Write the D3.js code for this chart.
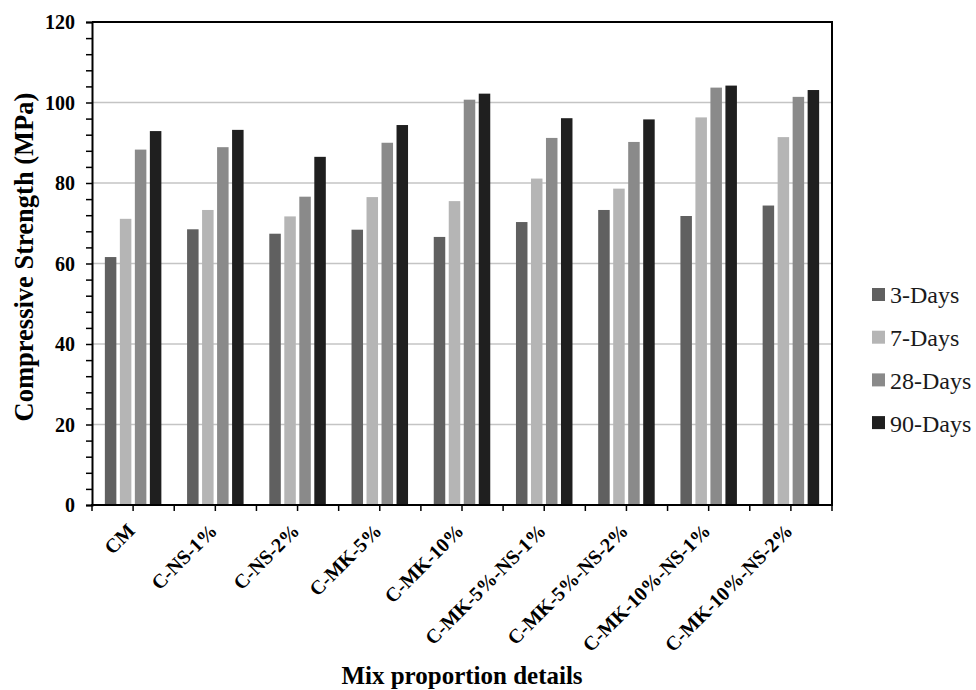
<!DOCTYPE html>
<html>
<head>
<meta charset="utf-8">
<script src="https://cdn.jsdelivr.net/npm/d3@7"></script>
<style>
  html, body { margin: 0; padding: 0; background: #fff; }
  svg { display: block; font-family: "Liberation Serif", "Times New Roman", serif; }
</style>
</head>
<body>
<svg id="chart" width="976" height="690"></svg>
<script>
// Compressive strength of each mix at four curing ages (MPa)
const mixes = ["CM", "C-NS-1%", "C-NS-2%", "C-MK-5%", "C-MK-10%",
  "C-MK-5%-NS-1%", "C-MK-5%-NS-2%", "C-MK-10%-NS-1%", "C-MK-10%-NS-2%"];
const ages = ["3-Days", "7-Days", "28-Days", "90-Days"];
const days3  = [61.6, 68.5, 67.4, 68.4, 66.6, 70.3, 73.3, 71.8, 74.4];
const days7  = [71.1, 73.3, 71.7, 76.5, 75.5, 81.1, 78.6, 96.3, 91.4];
const days28 = [88.3, 88.9, 76.6, 90.0, 100.7, 91.2, 90.2, 103.7, 101.4];
const days90 = [92.9, 93.2, 86.5, 94.4, 102.2, 96.1, 95.8, 104.2, 103.1];
const yTicks = [0, 20, 40, 60, 80, 100, 120];
const colors = ["#606060", "#b5b5b5", "#8a8a8a", "#1f1f1f"];

const seriesValues = [days3, days7, days28, days90];
const rows = mixes.map((m, i) => ({
  mix: m,
  values: ages.map((a, k) => ({ age: a, value: seriesValues[k][i] }))
}));

const svg = d3.select("#chart");
const plot = { left: 92, right: 832, top: 22, bottom: 505 };

const x0 = d3.scaleBand()
  .domain(mixes)
  .range([plot.left, plot.right])
  .paddingInner(0.3127)
  .paddingOuter(0.15635);
const x1 = d3.scaleBand()
  .domain(ages)
  .range([0, x0.bandwidth()])
  .paddingInner(0.233);
const y = d3.scaleLinear().domain([0, 120]).range([plot.bottom, plot.top]);
const color = d3.scaleOrdinal().domain(ages).range(colors);

// horizontal gridlines
svg.append("g")
  .selectAll("line")
  .data(yTicks.filter(t => t > 0 && t < 120))
  .join("line")
  .attr("x1", plot.left).attr("x2", plot.right)
  .attr("y1", d => y(d)).attr("y2", d => y(d))
  .attr("stroke", "#c4c4c4").attr("stroke-width", 1.6);

// bars
svg.append("g")
  .selectAll("g")
  .data(rows)
  .join("g")
  .attr("transform", d => `translate(${x0(d.mix)},0)`)
  .selectAll("rect")
  .data(d => d.values)
  .join("rect")
  .attr("x", d => x1(d.age))
  .attr("width", x1.bandwidth())
  .attr("y", d => y(d.value))
  .attr("height", d => y(0) - y(d.value))
  .attr("fill", d => color(d.age));

// frame: top and right borders
svg.append("path")
  .attr("d", `M${plot.left},${plot.top}H${plot.right}V${plot.bottom}`)
  .attr("fill", "none").attr("stroke", "#000").attr("stroke-width", 2);

// y axis with minor ticks every 4 MPa
const yAxis = d3.axisLeft(y).tickValues(d3.range(0, 121, 4)).tickSize(6).tickFormat("");
const yg = svg.append("g").attr("transform", `translate(${plot.left},0)`).call(yAxis);
yg.select(".domain").attr("stroke", "#000").attr("stroke-width", 2);
yg.selectAll(".tick line").attr("stroke", "#000").attr("stroke-width", 1.5);

svg.append("g")
  .selectAll("text")
  .data(yTicks)
  .join("text")
  .attr("x", plot.left - 17)
  .attr("y", d => y(d))
  .attr("dy", "0.35em")
  .attr("text-anchor", "end")
  .attr("font-size", 20)
  .attr("font-weight", "bold")
  .text(d => d);

// x axis: ticks at category boundaries and centres
const xg = svg.append("g");
xg.append("line")
  .attr("x1", plot.left - 1).attr("x2", plot.right + 1)
  .attr("y1", plot.bottom).attr("y2", plot.bottom)
  .attr("stroke", "#000").attr("stroke-width", 2);
const step = x0.step();
const xTickPos = d3.range(0, mixes.length * 2 + 1).map(i => plot.left + i * step / 2);
xg.selectAll("line.t")
  .data(xTickPos)
  .join("line")
  .attr("class", "t")
  .attr("x1", d => d).attr("x2", d => d)
  .attr("y1", plot.bottom).attr("y2", plot.bottom + 6)
  .attr("stroke", "#000").attr("stroke-width", 1.5);

// category labels, rotated
svg.append("g")
  .selectAll("text")
  .data(mixes)
  .join("text")
  .attr("transform", d => `translate(${x0(d) + x0.bandwidth() / 2 + 3},${plot.bottom + 27}) rotate(-45)`)
  .attr("text-anchor", "end")
  .attr("font-size", 20)
  .attr("font-weight", "bold")
  .text(d => d);

// axis titles
svg.append("text")
  .attr("x", (plot.left + plot.right) / 2)
  .attr("y", 684)
  .attr("text-anchor", "middle")
  .attr("font-size", 25)
  .attr("font-weight", "bold")
  .text("Mix proportion details");

svg.append("text")
  .attr("transform", `translate(33,257) rotate(-90)`)
  .attr("text-anchor", "middle")
  .attr("font-size", 26.5)
  .attr("font-weight", "bold")
  .text("Compressive Strength (MPa)");

// legend
const legend = svg.append("g")
  .selectAll("g")
  .data(ages)
  .join("g")
  .attr("transform", (d, i) => `translate(872,${295 + i * 42.7})`);
legend.append("rect")
  .attr("x", 0).attr("y", -7)
  .attr("width", 13).attr("height", 13)
  .attr("fill", d => color(d));
legend.append("text")
  .attr("x", 18).attr("y", 0)
  .attr("dy", "0.35em")
  .attr("font-size", 24)
  .attr("fill", "#1a1a1a")
  .text(d => d);
</script>
</body>
</html>
